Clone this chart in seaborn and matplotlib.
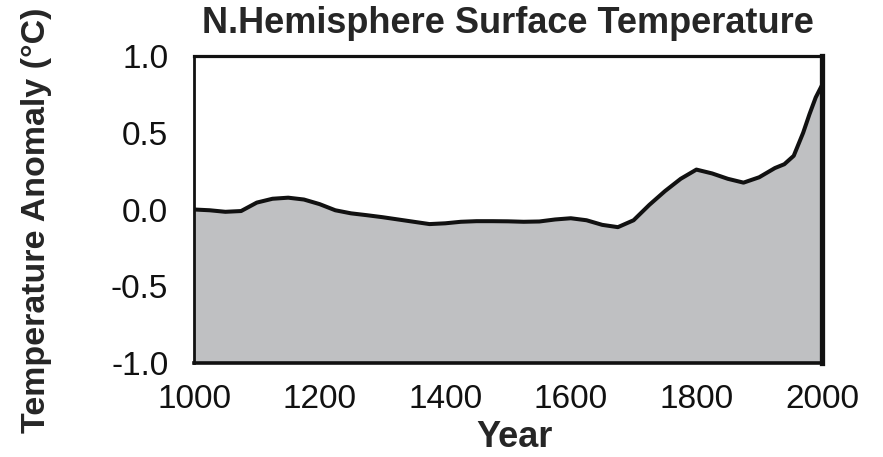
import numpy as np
import pandas as pd
import matplotlib
matplotlib.use("Agg")
import matplotlib.pyplot as plt
import seaborn as sns

# values
years = [1000, 1025, 1050, 1075, 1100, 1125, 1150, 1175, 1200, 1225, 1250, 1275,
         1300, 1325, 1350, 1375, 1400, 1425, 1450, 1475, 1500, 1525, 1550, 1575,
         1600, 1625, 1650, 1675, 1700, 1725, 1750, 1775, 1800, 1825, 1850, 1875,
         1900, 1925, 1940, 1955, 1970, 1980, 1990, 2000]
anomaly = [0.00, -0.005, -0.015, -0.01, 0.045, 0.07, 0.077, 0.065, 0.035, -0.005, -0.025, -0.037,
           -0.05, -0.065, -0.08, -0.095, -0.09, -0.08, -0.076, -0.076, -0.077, -0.08, -0.078, -0.065,
           -0.057, -0.07, -0.10, -0.115, -0.07, 0.03, 0.12, 0.20, 0.26, 0.235, 0.20, 0.175,
           0.21, 0.27, 0.295, 0.35, 0.50, 0.62, 0.73, 0.81]
xticks = [1000, 1200, 1400, 1600, 1800, 2000]
yticks = [-1.0, -0.5, 0.0, 0.5, 1.0]

df = pd.DataFrame({"Year": years, "Anomaly": anomaly})

sns.set_style("white")
plt.rcParams["font.family"] = ["Liberation Sans", "DejaVu Sans"]

fig = plt.figure(figsize=(8.83, 4.57), dpi=100)
ax = fig.add_axes([194/883, 1 - 363/457, 628/883, 307/457])

ax.fill_between(df["Year"], -1.0, df["Anomaly"], color="#bfc0c2", lw=0, zorder=1)
sns.lineplot(data=df, x="Year", y="Anomaly", ax=ax, color="#111111", lw=2.9, zorder=2)

ax.set_xlim(1000, 2000)
ax.set_ylim(-1.0, 1.0)
ax.set_xticks(xticks)
ax.set_yticks(yticks)
ax.set_yticklabels([f"{v:.1f}" for v in yticks])

for side, w in [("left", 2.0), ("top", 2.3), ("bottom", 2.6), ("right", 3.8)]:
    ax.spines[side].set_linewidth(w)
    ax.spines[side].set_color("#111111")

ax.tick_params(axis="x", direction="in", length=4, width=2, labelsize=24, pad=15, colors="#111111")
ax.tick_params(axis="y", direction="out", length=6.5, width=2, labelsize=24, pad=12, colors="#111111")

ax.set_xlabel("Year", fontsize=26, fontweight="bold", va="center")
ax.xaxis.set_label_coords(0.51, -0.244)
ax.set_ylabel("Temperature Anomaly (°C)", fontsize=24.5, fontweight="bold", va="center")
ax.yaxis.set_label_coords(-0.25, 0.466)
ax.set_title("N.Hemisphere Surface Temperature", fontsize=26, fontweight="bold",
             y=1.049, va="baseline")

fig.savefig("out.png", dpi=100)
